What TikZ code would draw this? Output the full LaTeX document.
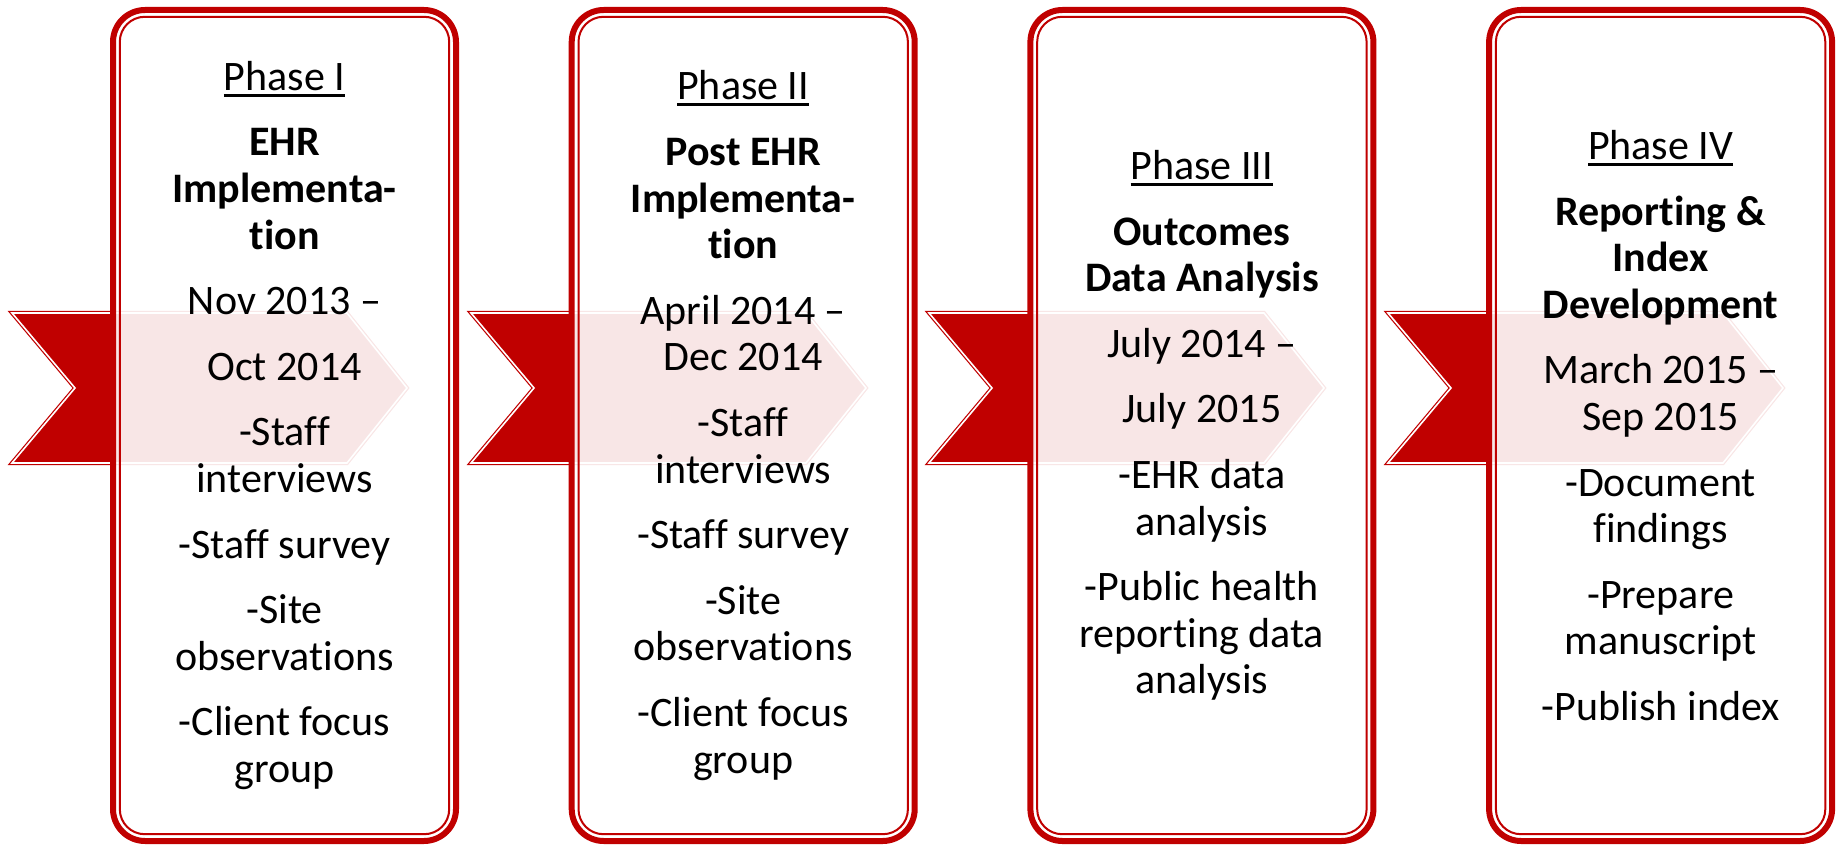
\documentclass[tikz,border=0pt]{standalone}
\usepackage{fontspec}
\setmainfont{Carlito}[Ligatures=NoCommon]
\usepackage{xcolor}
\usepackage{tikz}
\usetikzlibrary{positioning}
\definecolor{phasered}{HTML}{C00000}
\newcommand{\pbreak}[1][9.5pt]{\\[#1]} % gap between two items of a box
\newcommand{\phasehead}[1]{\vtop{\hbox{#1}\kern1.6pt\hrule height 1.4pt}} % underlined heading
\tikzset{
chevron/.style={draw=phasered, line width=0.6pt, double=white, double distance=0.8pt, fill=phasered}, % red arrow behind each box
phase box/.style={draw=phasered, line width=3pt, rounded corners=16pt, fill=white, fill opacity=0.9, text opacity=1,
  minimum width=171.5pt, minimum height=415.5pt, outer sep=0pt, inner sep=0pt, align=center,
  font=\fontsize{21}{23.3}\selectfont}, % the four phases
inner line/.style={draw=phasered, line width=1pt, rounded corners=12.5pt}, % thin line inside the border
}

\begin{document}
\begin{tikzpicture}[x=0.5pt, y=-0.5pt]
\useasboundingbox (0,0) rectangle (1837,845);

% arrows first, so the boxes lie over them
\draw[chevron] (12,313) -- (347,313) -- (407,388) -- (347,463) -- (12,463) -- (75,388) -- cycle;
\draw[chevron] (471,313) -- (806,313) -- (866,388) -- (806,463) -- (471,463) -- (534,388) -- cycle;
\draw[chevron] (929,313) -- (1264,313) -- (1324,388) -- (1264,463) -- (929,463) -- (992,388) -- cycle;
\draw[chevron] (1388,313) -- (1723,313) -- (1783,388) -- (1723,463) -- (1388,463) -- (1451,388) -- cycle;

\node[phase box] (p1) at (284.5,425.5) {\phasehead{Phase I}\pbreak
\textbf{EHR}\\\textbf{Implementa-}\\\textbf{tion}\pbreak
Nov 2013 –\pbreak
Oct 2014\pbreak
-Staff\\interviews\pbreak
-Staff survey\pbreak
-Site\\observations\pbreak
-Client focus\\group};
\node[phase box, right=57.85pt of p1] (p2) {\phasehead{Phase II}\pbreak
\textbf{Post EHR}\\\textbf{Implementa-}\\\textbf{tion}\pbreak
April 2014 –\\Dec 2014\pbreak
-Staff\\interviews\pbreak
-Staff survey\pbreak
-Site\\observations\pbreak
-Client focus\\group};
\node[phase box, right=57.85pt of p2] (p3) {\phasehead{Phase III}\pbreak
\textbf{Outcomes}\\\textbf{Data Analysis}\pbreak
July 2014 –\pbreak
July 2015\pbreak
-EHR data\\analysis\pbreak
-Public health\\reporting data\\analysis};
\node[phase box, right=57.85pt of p3] (p4) {\phasehead{Phase IV}\pbreak
\textbf{Reporting \&}\\\textbf{Index}\\\textbf{Development}\pbreak
March 2015 –\\Sep 2015\pbreak
-Document\\findings\pbreak
-Prepare\\manuscript\pbreak
-Publish index};

% thin inner border of every box
\draw[inner line] ([shift={(3.4pt,-3.4pt)}]p1.north west) rectangle ([shift={(-3.4pt,3.4pt)}]p1.south east);
\draw[inner line] ([shift={(3.4pt,-3.4pt)}]p2.north west) rectangle ([shift={(-3.4pt,3.4pt)}]p2.south east);
\draw[inner line] ([shift={(3.4pt,-3.4pt)}]p3.north west) rectangle ([shift={(-3.4pt,3.4pt)}]p3.south east);
\draw[inner line] ([shift={(3.4pt,-3.4pt)}]p4.north west) rectangle ([shift={(-3.4pt,3.4pt)}]p4.south east);
\end{tikzpicture}
\end{document}
